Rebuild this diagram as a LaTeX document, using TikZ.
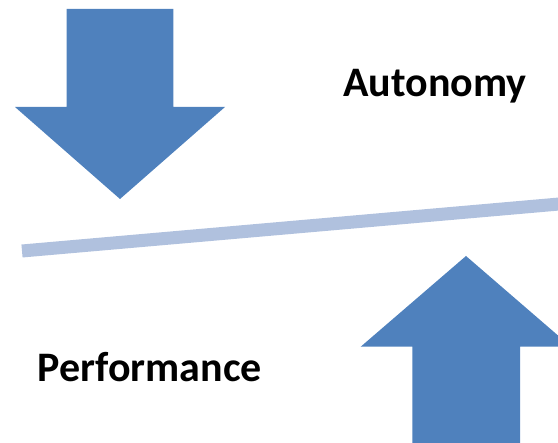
\documentclass[tikz,border=0pt]{standalone}
\usepackage{fontspec}
\setmainfont{Carlito}
\definecolor{arrowblue}{RGB}{79,129,189}
\definecolor{beamblue}{RGB}{176,193,222}
\tikzset{
  bigarrow/.style={fill=arrowblue, draw=none},
  beam/.style={draw=beamblue, line width=13pt},
  label/.style={font=\fontsize{42}{50}\selectfont\bfseries, text=black, inner sep=0pt}
}
\begin{document}
\begin{tikzpicture}[x=1pt,y=-1pt]
  % Clipping to the page
  \clip (0,0) rectangle (558,443);

  % Drawing arrow pressing down
  \fill [bigarrow] (66.7,9) -- (173.3,9) -- (173.3,107) -- (225,107)
    -- (120,199) -- (15,107) -- (66.7,107) -- cycle;%

  % Drawing tilted beam
  \coordinate (beamleft) at (22,251);
  \coordinate (beamright) at (565,203.5);
  \draw [beam] (beamleft) -- (beamright);%

  % Drawing arrow pushing up
  \fill [bigarrow] (466,256) -- (571,346.7) -- (520,346.7) -- (520,450)
    -- (412.3,450) -- (412.3,346.7) -- (360.7,346.7) -- cycle;%

  % Marking labels
  \node [label, anchor=base] (autonomy) at (435,97) {Autonomy};%
  \node [label, anchor=base] (performance) at (150,381.7) {Performance};%
\end{tikzpicture}
\end{document}
